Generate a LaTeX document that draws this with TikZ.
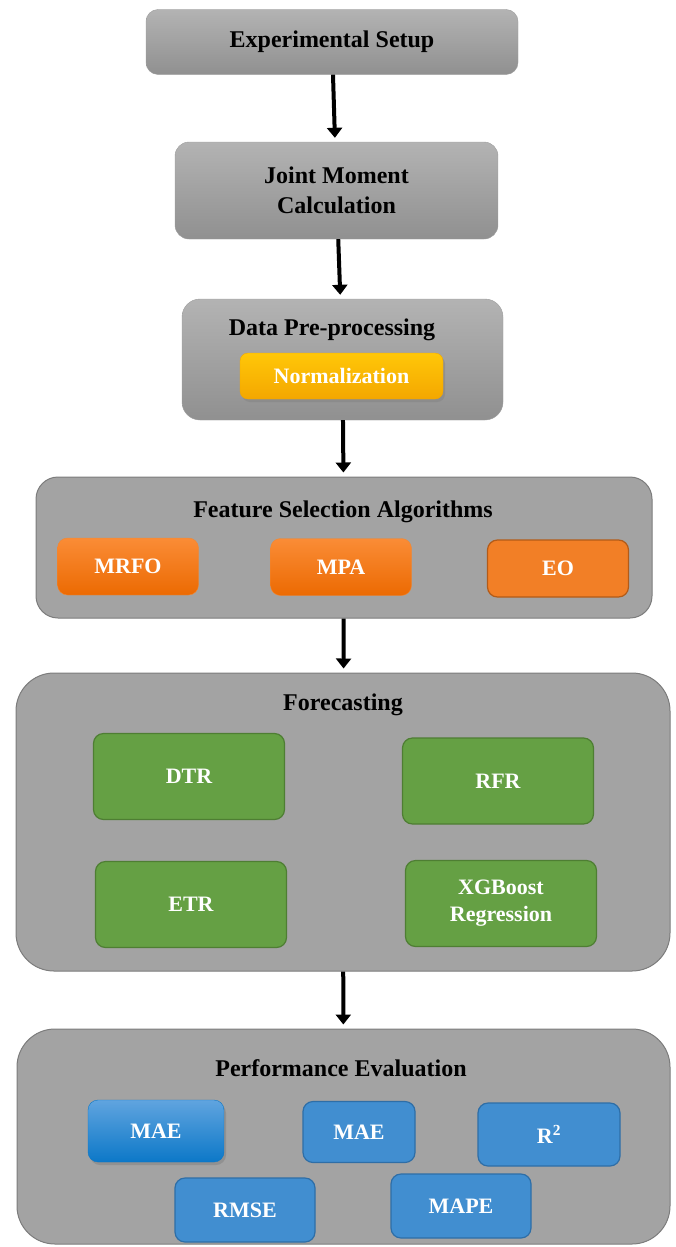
\documentclass[tikz,border=0pt]{standalone}
\usepackage{fontspec}
\setmainfont{Liberation Serif}
\usepackage{xcolor}
\usepackage{tikz}
\usetikzlibrary{arrows.meta, positioning, shadows}

\definecolor{stageTop}{HTML}{B3B3B3}
\definecolor{stageBot}{HTML}{909090}
\definecolor{stageLine}{HTML}{9C9C9C}
\definecolor{panelFill}{HTML}{A3A3A3}
\definecolor{panelLine}{HTML}{7C7C7C}
\definecolor{normTop}{HTML}{FFC708}
\definecolor{normBot}{HTML}{F4A700}
\definecolor{fsTop}{HTML}{FA8C36}
\definecolor{fsBot}{HTML}{EC6A02}
\definecolor{fsFlat}{HTML}{F27F26}
\definecolor{fsLine}{HTML}{B35B18}
\definecolor{fcFill}{HTML}{65A044}
\definecolor{fcLine}{HTML}{4E7E33}
\definecolor{evFill}{HTML}{418ED0}
\definecolor{evLine}{HTML}{2E6EA7}
\definecolor{evTop}{HTML}{60A4DF}
\definecolor{evBot}{HTML}{0C78C8}

\begin{document}
\begin{tikzpicture}[
    x=1pt, y=-1pt,
    font=\bfseries\fontsize{24}{30}\selectfont,
    stage/.style={draw=stageLine, rounded corners=12pt, top color=stageTop, bottom color=stageBot, align=center, inner sep=0pt},
    panel/.style={draw=panelLine, line width=1pt, fill=panelFill, inner sep=0pt},
    title/.style={text=black, inner sep=0pt},
    algo/.style={rounded corners=10pt, inner sep=0pt, text=white, align=center, font=\bfseries\fontsize{22}{27}\selectfont},
    fsbox/.style={algo, draw=fsBot!80!white, top color=fsTop, bottom color=fsBot, minimum width=141pt, minimum height=57pt},
    fcbox/.style={algo, draw=fcLine, line width=1.2pt, fill=fcFill, minimum width=191pt, minimum height=86pt},
    evbox/.style={algo, draw=evLine, line width=1.2pt, fill=evFill, minimum width=140pt, minimum height=63pt},
    arrow/.style={-{Triangle[length=10pt, width=15pt]}, line width=4pt, shorten >=4pt}
]
\useasboundingbox (0,0) rectangle (676,1247);

% Preparation stages
\node[stage, minimum width=372pt, minimum height=65pt] (setup) at (332,42) {Experimental Setup};
\node[stage, minimum width=323pt, minimum height=97pt, rounded corners=14pt] (joint) at (336.5,190.5) {Joint Moment\\Calculation};
\node[stage, minimum width=321pt, minimum height=121pt, rounded corners=18pt] (prep) at (342.5,359.5) {};
\node[title] (prepTitle) at (332,330) {Data Pre-processing};
\node[algo, top color=normTop, bottom color=normBot, draw=normBot, minimum width=203pt, minimum height=46pt, rounded corners=8pt,
      drop shadow={opacity=0.45, shadow xshift=2pt, shadow yshift=-3pt}] (norm) at (341.5,376) {Normalization};

% Feature selection
\node[panel, rounded corners=22pt, minimum width=616pt, minimum height=141pt] (feat) at (344,547.5) {};
\node[title] (featTitle) at (343,512) {Feature Selection Algorithms};
\node[fsbox] (mrfo) at (128,566.5) {MRFO};
\node[fsbox] (mpa) at (341,567) {MPA};
\node[algo, draw=fsLine, line width=1.2pt, fill=fsFlat, minimum width=141pt, minimum height=57pt] (eo) at (558,568.5) {EO};

% Forecasting models
\node[panel, rounded corners=38pt, minimum width=654pt, minimum height=298pt] (fore) at (343,822) {};
\node[title] (foreTitle) at (343,705) {Forecasting};
\node[fcbox] (dtr) at (189,776.5) {DTR};
\node[fcbox] (rfr) at (498,781) {RFR};
\node[fcbox] (etr) at (191,904.5) {ETR};
\node[fcbox] (xgb) at (501,903.5) {XGBoost\\Regression};

% Performance evaluation
\node[panel, rounded corners=38pt, minimum width=653pt, minimum height=215pt] (perf) at (343.5,1136.5) {};
\node[title] (perfTitle) at (341,1068) {Performance Evaluation};
\node[algo, draw=evBot, top color=evTop, bottom color=evBot, minimum width=136pt, minimum height=62pt,
      drop shadow={opacity=0.5, shadow xshift=2pt, shadow yshift=-3pt}] (mae) at (156,1131) {MAE};
\node[evbox, minimum width=112pt, minimum height=61pt] (maeb) at (359,1132) {MAE};
\node[evbox, minimum width=142pt] (rsq) at (549,1134.5) {R\textsuperscript{2}};
\node[evbox, minimum height=64pt] (rmse) at (245,1210) {RMSE};
\node[evbox, minimum height=64pt] (mape) at (461,1206) {MAPE};

% Flow
\draw[arrow] (setup) -- (joint);
\draw[arrow] (joint) -- (prep);
\draw[arrow] (prep) -- (feat);
\draw[arrow] (feat) -- (fore);
\draw[arrow] (fore) -- (perf);

\end{tikzpicture}
\end{document}
